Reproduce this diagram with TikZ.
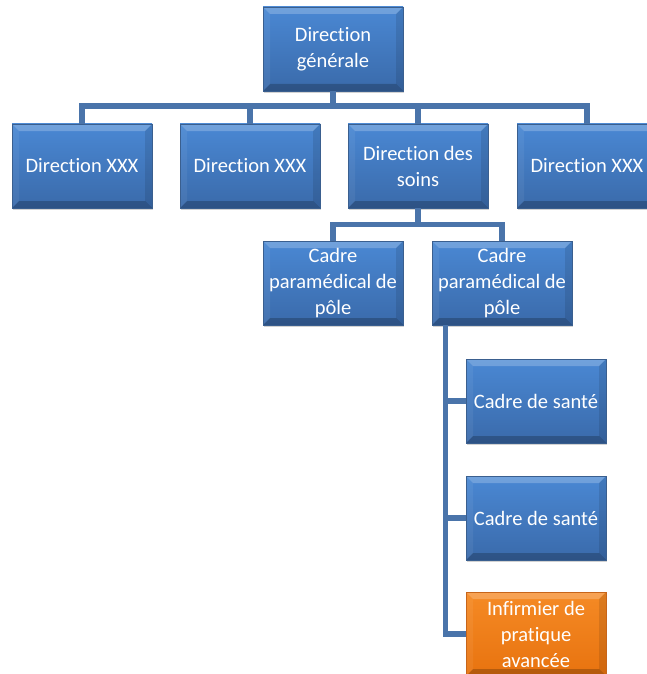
\documentclass[tikz,border=0pt]{standalone}
\usepackage{fontspec}
\setmainfont{Carlito}[RawFeature={-liga}]
\usetikzlibrary{shadows}
\definecolor{bluetop}{HTML}{4A88D4}
\definecolor{bluebot}{HTML}{3A6AAA}
\definecolor{blueedge}{HTML}{3A5F8F}
\definecolor{conncol}{HTML}{4A74AA}
\definecolor{orangetop}{HTML}{F58A25}
\definecolor{orangebot}{HTML}{E8730F}
\definecolor{orangeedge}{HTML}{C7651A}
\tikzset{
  bevel/.style={path picture={
    \fill[white,opacity=0.22] (path picture bounding box.north west) -- (path picture bounding box.north east)
      -- ([xshift=-7pt,yshift=-7pt]path picture bounding box.north east) -- ([xshift=7pt,yshift=-7pt]path picture bounding box.north west) -- cycle;
    \fill[black,opacity=0.22] (path picture bounding box.south west) -- (path picture bounding box.south east)
      -- ([xshift=-7pt,yshift=7pt]path picture bounding box.south east) -- ([xshift=7pt,yshift=7pt]path picture bounding box.south west) -- cycle;
    \fill[white,opacity=0.06] (path picture bounding box.north west) -- ([xshift=7pt,yshift=-7pt]path picture bounding box.north west)
      -- ([xshift=7pt,yshift=7pt]path picture bounding box.south west) -- (path picture bounding box.south west) -- cycle;
    \fill[black,opacity=0.1] (path picture bounding box.north east) -- ([xshift=-7pt,yshift=-7pt]path picture bounding box.north east)
      -- ([xshift=-7pt,yshift=7pt]path picture bounding box.south east) -- (path picture bounding box.south east) -- cycle;
  }},
  box/.style={rectangle, minimum width=140pt, minimum height=84pt, inner sep=2pt,
    text=white, align=center, font=\fontsize{20.5}{26}\selectfont,
    top color=bluetop, bottom color=bluebot, draw=blueedge, line width=0.6pt,
    drop shadow={shadow xshift=1pt, shadow yshift=-2pt, opacity=0.35}, bevel},
  obox/.style={box, top color=orangetop, bottom color=orangebot, draw=orangeedge},
  conn/.style={draw=conncol, line width=5.5pt},
}
\begin{document}
\begin{tikzpicture}[x=1pt,y=-1pt]
\useasboundingbox (0,0) rectangle (647,674);
\clip (0,0) rectangle (647,674);
\fill[white] (0,0) rectangle (647,674);
% nodes
\node[box] (dg) at (333,49) {Direction\\générale};
\node[box] (d1) at (82,166) {Direction XXX};
\node[box] (d2) at (250,166) {Direction XXX};
\node[box] (ds) at (418,166) {Direction des\\soins};
\node[box] (d4) at (587,166) {Direction XXX};
\node[box] (c1) at (333,283) {Cadre\\paramédical de\\pôle};
\node[box] (c2) at (502,283) {Cadre\\paramédical de\\pôle};
\node[box] (s1) at (536,401) {Cadre de santé};
\node[box] (s2) at (536,518) {Cadre de santé};
\node[obox] (ip) at (536,634) {Infirmier de\\pratique\\avancée};
% connectors
\coordinate (b1) at (0,106);
\coordinate (b2) at (0,224.5);
\coordinate (t) at ([xshift=14pt]c2.south west);
\draw[conn] (dg.south) -- (dg.south |- b1);
\draw[conn] (d1.north) |- (d4.north |- b1) -- (d4.north);
\draw[conn] (d2.north) -- (d2.north |- b1);
\draw[conn] (ds.north) -- (ds.north |- b1);
\draw[conn] (ds.south) -- (ds.south |- b2);
\draw[conn] (c1.north) |- (c2.north |- b2) -- (c2.north);
\draw[conn] (t) |- (ip.west);
\draw[conn] (t |- s1.west) -- (s1.west);
\draw[conn] (t |- s2.west) -- (s2.west);
\end{tikzpicture}
\end{document}
